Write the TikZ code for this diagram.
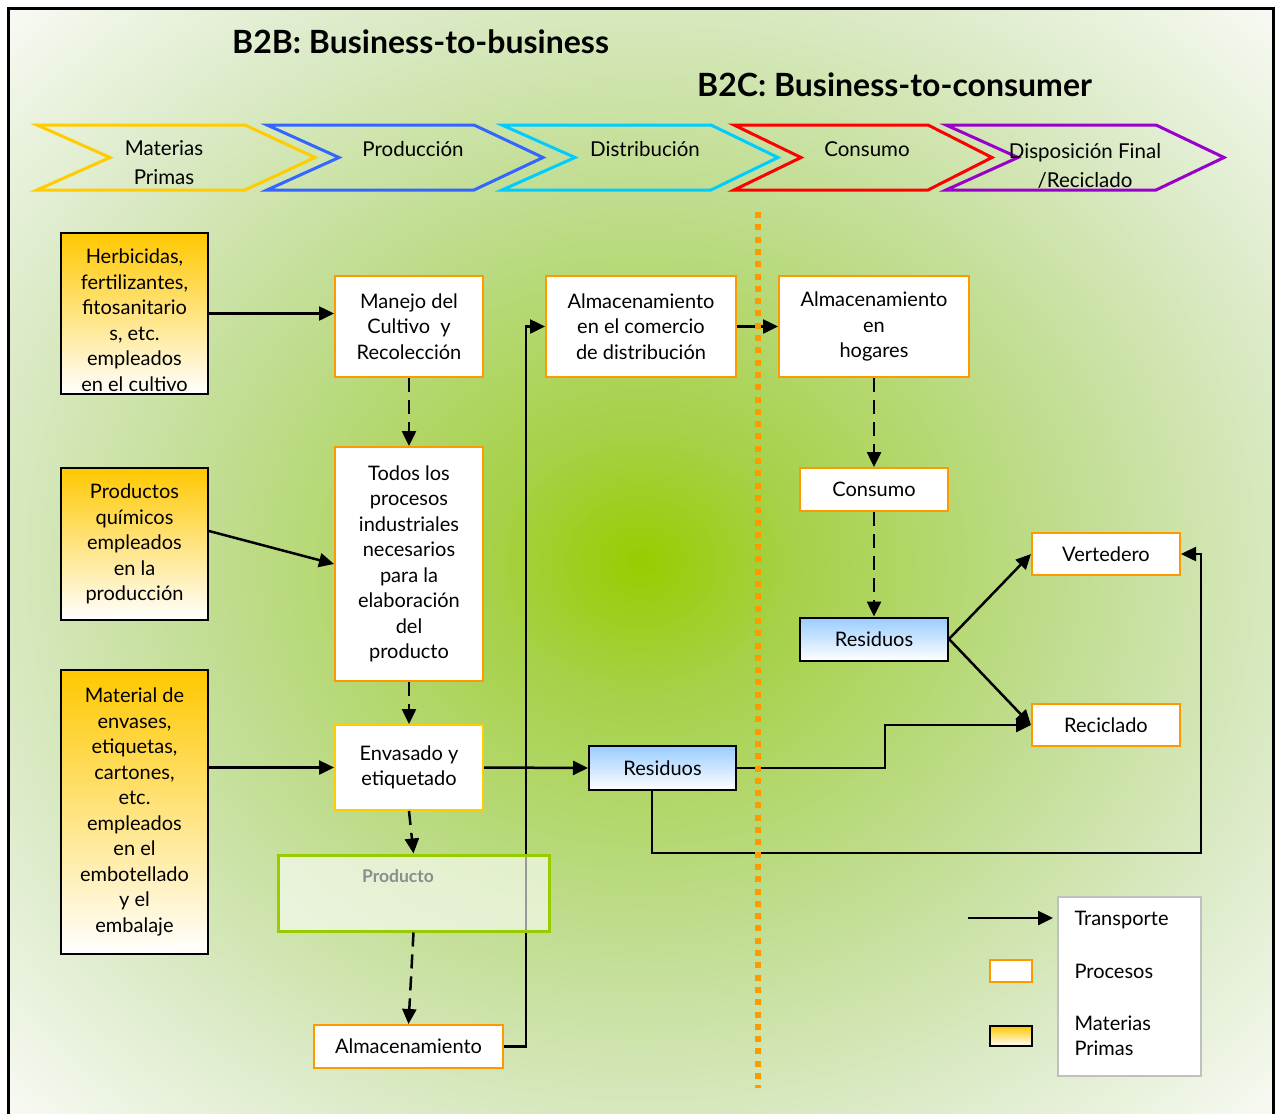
\documentclass[tikz,border=0pt]{standalone}
\usepackage{fontspec}
\setmainfont{Lato}
\usetikzlibrary{arrows.meta,calc}

\definecolor{amarillo}{HTML}{FFC800}
\definecolor{naranja}{HTML}{FF9900}
\definecolor{oro}{HTML}{FFCC00}
\definecolor{azulcl}{HTML}{99CCFF}
\definecolor{verdelima}{HTML}{99CC00}
\definecolor{grisprod}{HTML}{8C8C8C}
\definecolor{grisley}{HTML}{C0C0C0}
\definecolor{chamar}{HTML}{FFCC00}
\definecolor{chazul}{HTML}{3366FF}
\definecolor{chcian}{HTML}{00CCFF}
\definecolor{chrojo}{HTML}{FF0000}
\definecolor{chmorado}{HTML}{9900CC}
\definecolor{vA}{HTML}{99CC00}
\definecolor{vB}{HTML}{A6D148}
\definecolor{vC}{HTML}{C0DD90}
\definecolor{vD}{HTML}{DDEBCA}
\definecolor{vE}{HTML}{F6F9F1}

\pgfdeclareradialshading{brillo}{\pgfpoint{0bp}{0bp}}{color(0bp)=(vA); color(6bp)=(vB); color(17bp)=(vC); color(27bp)=(vD); color(35bp)=(vE); color(50bp)=(white)}

\newcommand{\fuentecaja}{\fontsize{20}{25.5}\selectfont}
\newcommand{\fuentechev}{\fontsize{20.5}{29}\selectfont}
\newcommand{\fuentetitulo}{\fontsize{32}{36}\selectfont\bfseries}

\begin{document}
\begin{tikzpicture}[x=1pt,y=-1pt,
	mat/.style={draw=black, line width=2pt, top color=amarillo, bottom color=white, minimum width=147pt, inner sep=0pt, align=center, font=\fuentecaja},
	proc/.style={draw=naranja, line width=2pt, fill=white, inner sep=0pt, align=center, font=\fuentecaja},
	res/.style={draw=black, line width=2pt, top color=azulcl, bottom color=white, minimum width=148pt, minimum height=43pt, inner sep=0pt, font=\fuentecaja},
	tr/.style={line width=2.5pt, -{Triangle[length=15pt,width=14pt]}},
	trd/.style={tr, dash pattern=on 14pt off 8pt},
	chev/.style={line width=3pt, line join=miter},
	etiq/.style={inner sep=0pt, align=center, font=\fuentechev}]
	\useasboundingbox (0,0) rectangle (1278,1114);

	% fondo y marco
	\fill[white] (0,0) rectangle (1278,1114);
	\shade[shading=brillo] (10,10) rectangle (1272,1114);
	\draw[line width=3pt] (8,1120) -- (8,8) -- (1273,8) -- (1273,1120);

	% titulos
	\node[anchor=west, inner sep=0pt, font=\fuentetitulo] (titb2b) at (232,42) {B2B: Business-to-business};
	\node[anchor=west, inner sep=0pt, font=\fuentetitulo] (titb2c) at (697,85) {B2C: Business-to-consumer};

	% flechas de etapas
	\draw[chev, chamar] (37,125) -- (245,125) -- (315,157.5) -- (245,190) -- (37,190) -- (110,157.5) -- cycle;
	\draw[chev, chazul] (267,125) -- (474,125) -- (543,157.5) -- (474,190) -- (267,190) -- (339,157.5) -- cycle;
	\draw[chev, chcian] (502,125) -- (711,125) -- (778,157.5) -- (711,190) -- (502,190) -- (575,157.5) -- cycle;
	\draw[chev, chrojo] (734,125) -- (928,125) -- (992,157.5) -- (928,190) -- (734,190) -- (801,157.5) -- cycle;
	\draw[chev, chmorado] (946,125) -- (1156,125) -- (1224,157.5) -- (1156,190) -- (946,190) -- (1018,157.5) -- cycle;
	\node[etiq] (etmat) at (164,163) {Materias\\Primas};
	\node[etiq] (etprod) at (413,149) {Producción};
	\node[etiq] (etdist) at (645,149) {Distribución};
	\node[etiq] (etcons) at (867,149) {Consumo};
	\node[etiq] (etdisp) at (1085,166) {Disposición Final\\/Reciclado};

	% materias primas
	\node[mat, minimum height=161pt] (herb) at (134.5,313.5) {\rule{0pt}{28pt}Herbicidas,\\fertilizantes,\\fitosanitario\\s, etc.\\empleados\\en el cultivo};
	\node[mat, minimum height=152pt] (prodq) at (134.5,544) {Productos\\químicos\\empleados\\en la\\producción};
	\node[mat, minimum height=284pt] (matenv) at (134.5,812) {Material de\\envases,\\etiquetas,\\cartones,\\etc.\\empleados\\en el\\embotellado\\y el\\embalaje};

	% procesos
	\node[proc, minimum width=148pt, minimum height=101pt] (manejo) at (409,326.5) {Manejo del\\Cultivo~ y\\Recolección};
	\node[proc, minimum width=148pt, minimum height=234pt] (todos) at (409,564) {Todos los\\procesos\\industriales\\necesarios\\para la\\elaboración\\del\\producto};
	\node[proc, draw=oro, minimum width=148pt, minimum height=85pt] (envas) at (409,767.5) {Envasado y\\etiquetado};
	\node[proc, minimum width=189pt, minimum height=43pt] (almac) at (408.5,1046.5) {Almacenamiento};
	\node[proc, minimum width=190pt, minimum height=101pt] (comercio) at (641,326.5) {Almacenamiento\\en el comercio\\de distribución};
	\node[proc, minimum width=190pt, minimum height=101pt] (hogares) at (874,326.5) {Almacenamiento\\en\\hogares};
	\node[proc, minimum width=148pt, minimum height=43pt] (consumo) at (874,489.5) {Consumo};
	\node[res] (resid2) at (874,639) {Residuos};
	\node[res, minimum width=147pt, minimum height=44pt] (resid1) at (662.5,768) {Residuos};
	\node[proc, minimum width=148pt, minimum height=42pt] (vert) at (1106,554) {Vertedero};
	\node[proc, minimum width=148pt, minimum height=42pt] (recic) at (1106,725) {Reciclado};

	% transporte al comercio (pasa por detras del producto)
	\draw[tr] (almac.east) -- ++(22,0) |- (comercio.west);

	\node[draw=verdelima, line width=3pt, fill=white, fill opacity=0.6, minimum width=271pt, minimum height=76pt] (producto) at (413.5,893) {};
	\node[inner sep=0pt, text=grisprod, font=\fontsize{17.5}{20}\selectfont\bfseries] (productolbl) at (398,876) {Producto};

	% conexiones
	\draw[tr] (herb.east) -- (herb.east -| manejo.west);
	\draw[tr] ([yshift=13pt]prodq.east) -- (todos.west);
	\draw[tr] (matenv.east |- envas.west) -- (envas.west);
	\draw[trd] (manejo.south) -- (todos.north);
	\draw[trd] (todos.south) -- (envas.north);
	\draw[trd] (envas.south) -- (producto.north);
	\draw[trd] (producto.south) -- (almac.north);
	\draw[tr] (envas.east) -- (resid1.west);
	\draw[tr] (comercio.east) -- (hogares.west);
	\draw[trd] (hogares.south) -- (consumo.north);
	\draw[trd] (consumo.south) -- (resid2.north);
	\draw[tr] (resid2.east) -- (vert.west);
	\draw[tr] (resid2.east) -- (recic.west);
	\draw[tr] (resid1.east) -- ++(148,0) |- (recic.west);
	\coordinate (vuelta) at (1201,853);
	\draw[tr] ([xshift=-10.5pt]resid1.south) |- (vuelta) |- (vert.east);

	% leyenda
	\node[draw=grisley, line width=2pt, fill=white, minimum width=143pt, minimum height=179pt] (leyenda) at (1129.5,986.5) {};
	\node[anchor=west, font=\fuentecaja] (legtr) at (1071,920) {Transporte};
	\node[anchor=west, font=\fuentecaja] (legproc) at (1071,971) {Procesos};
	\node[anchor=west, align=left, font=\fuentecaja] (legmat) at (1071,1036) {Materias\\Primas};
	\node[proc, minimum width=42pt, minimum height=22pt] (legprocbox) at (1011,971) {};
	\node[mat, minimum width=42pt, minimum height=20pt] (legmatbox) at (1011,1036) {};
	\coordinate (legini) at (968,918);
	\coordinate (legfin) at (1053,918);
	\draw[tr] (legini) -- (legfin);

	% separacion B2B / B2C
	\draw[naranja, line width=5.5pt, dash pattern=on 6pt off 6.3pt] (758,212) -- (758,1088);
\end{tikzpicture}
\end{document}
